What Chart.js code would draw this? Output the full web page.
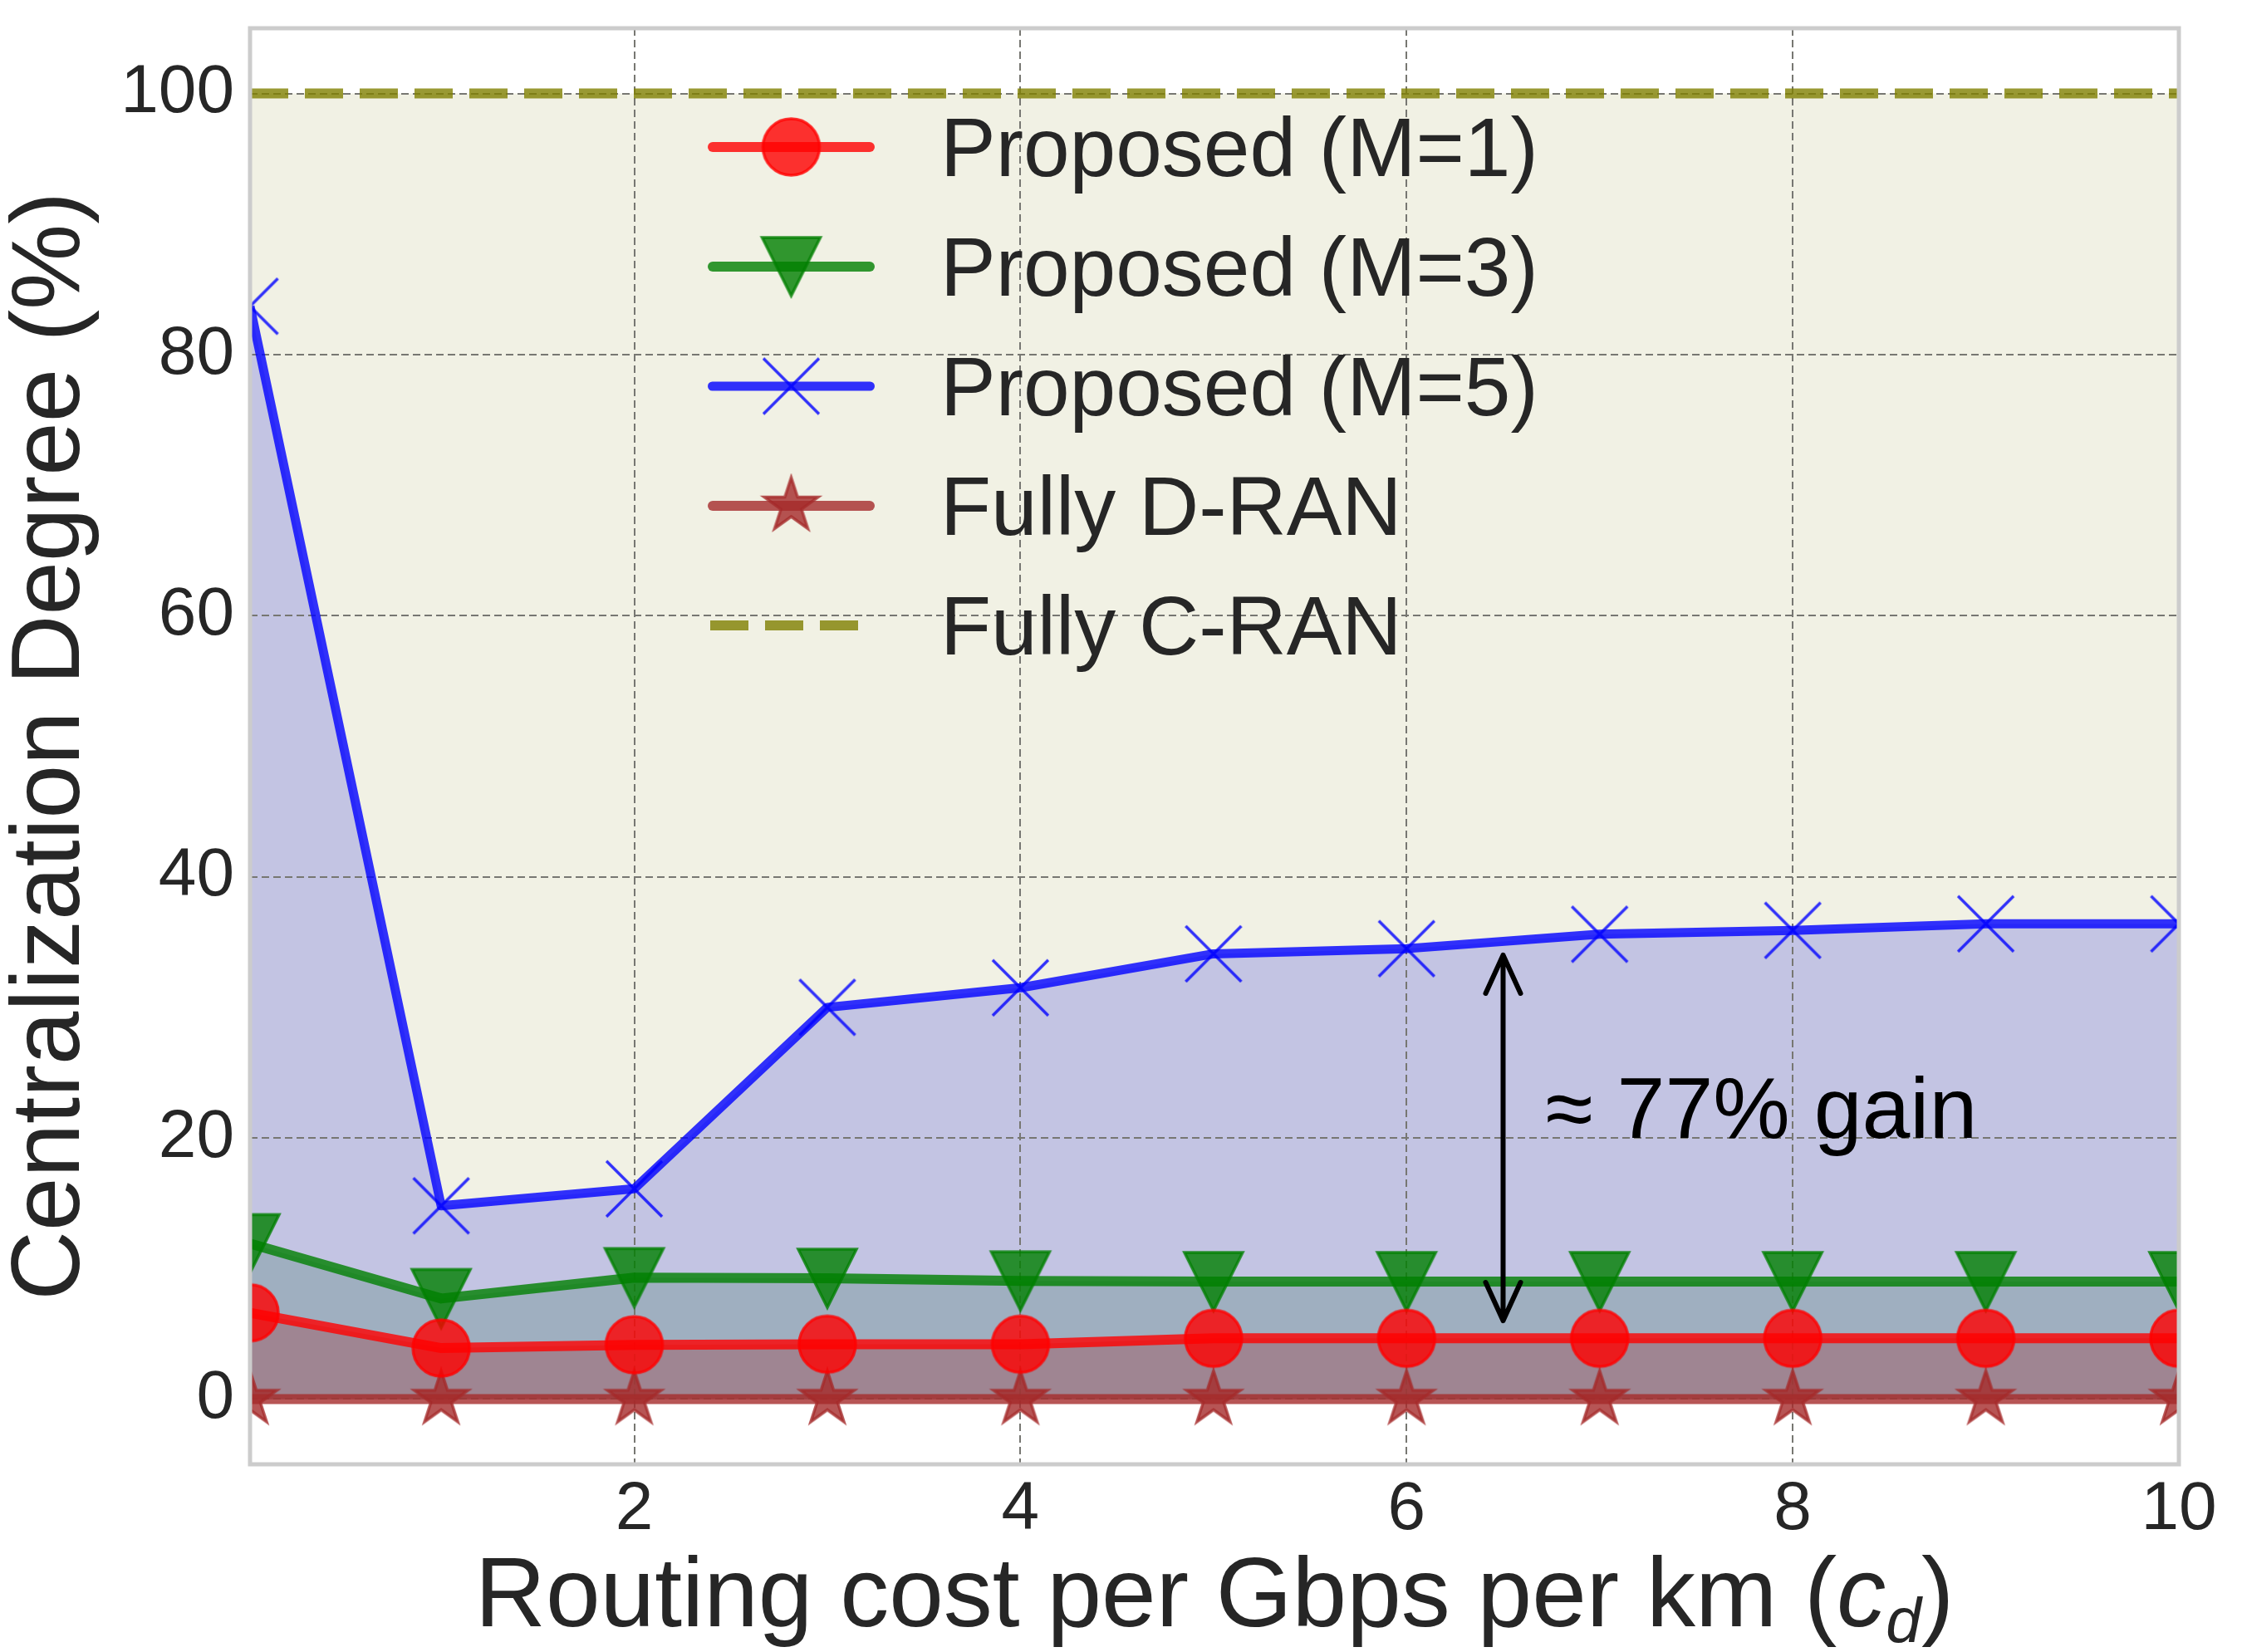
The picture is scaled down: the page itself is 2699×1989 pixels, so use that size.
<!DOCTYPE html>
<html>
<head>
<meta charset="utf-8">
<title>Centralization degree vs routing cost</title>
<script src="https://cdn.jsdelivr.net/npm/chart.js@4.4.1/dist/chart.umd.min.js"></script>
<style>
  body { margin: 0; background: #fff; }
  #wrap { position: relative; width: 2699px; height: 1989px; font-family: 'Liberation Sans', Arial, sans-serif; color: #262626; }
  #chart { position: absolute; left: 0; top: 0; }
  #legend { position: absolute; left: 852px; top: 105px; }
  .row { display: flex; align-items: center; height: 144px; }
  .row span { margin-left: 79px; font-size: 100px; line-height: 144px; white-space: nowrap; }
  #xtitle { position: absolute; left: 301px; width: 2322px; top: 1858px; text-align: center; font-size: 118px; line-height: 118px; white-space: nowrap; }
  #xtitle sub { font-size: 0.65em; vertical-align: -19px; line-height: 0; }
</style>
</head>
<body>
<div id="wrap">
  <canvas id="chart" width="2699" height="1989"></canvas>
  <div id="legend"></div>
  <div id="xtitle">Routing cost per Gbps per km (<i>c<sub>d</sub></i>)</div>
</div>
<script>
// ── Data ──
const costs = [0.01, 1, 2, 3, 4, 5, 6, 7, 8, 9, 10];
const proposedM1 = [6.6, 3.9, 4.15, 4.2, 4.2, 4.65, 4.65, 4.65, 4.65, 4.65, 4.65];
const proposedM3 = [11.9, 7.7, 9.3, 9.25, 9.05, 9.0, 9.0, 9.0, 9.0, 9.0, 9.0];
const proposedM5 = [83.7, 14.8, 16.1, 30.0, 31.5, 34.1, 34.5, 35.6, 35.9, 36.4, 36.4];
const fullyDRAN = [0, 0, 0, 0, 0, 0, 0, 0, 0, 0, 0];
const fullyCRAN = [100, 100, 100, 100, 100, 100, 100, 100, 100, 100, 100];
const xTicks = [2, 4, 6, 8, 10];
const yTicks = [0, 20, 40, 60, 80, 100];
const gainArrow = { x: 6.5, from: 6, to: 34 };
const gainLabel = { x: 6.72, y: 20, text: '≈ 77% gain' };

const FONT = "'Liberation Sans', Arial, sans-serif";
const TEXT = '#262626';

Chart.defaults.font.family = FONT;
Chart.defaults.color = TEXT;

// ── Marker sprites (matplotlib-like o, v, x, *) ──
function markerCanvas(kind, rgb, size, lw) {
    const pad = 5;
    const c = document.createElement('canvas');
    c.width = c.height = Math.ceil(size + pad * 2);
    const g = c.getContext('2d');
    const m = c.width / 2, r = size / 2;
    g.fillStyle = g.strokeStyle = 'rgba(' + rgb + ',0.8)';
    g.lineWidth = lw;
    g.beginPath();
    if (kind === 'circle') {
        g.arc(m, m, r, 0, Math.PI * 2);
    } else if (kind === 'tri') {
        g.moveTo(m - r, m - r); g.lineTo(m + r, m - r); g.lineTo(m, m + r); g.closePath();
    } else if (kind === 'star') {
        for (let i = 0; i < 10; i++) {
            const rr = i % 2 ? r * 0.382 : r;
            const a = -Math.PI / 2 + i * Math.PI / 5;
            g.lineTo(m + rr * Math.cos(a), m + rr * Math.sin(a));
        }
        g.closePath();
    } else if (kind === 'x') {
        g.moveTo(m - r, m - r); g.lineTo(m + r, m + r);
        g.moveTo(m + r, m - r); g.lineTo(m - r, m + r);
        g.stroke();
        return c;
    }
    g.fill();
    g.stroke();
    return c;
}

const mkCircle = markerCanvas('circle', '255,0,0', 68, 3.5);
const mkTri = markerCanvas('tri', '0,128,0', 70, 3.5);
const mkX = markerCanvas('x', '0,0,255', 67, 3.5);
const mkStar = markerCanvas('star', '165,42,42', 68, 3.5);

const pts = arr => costs.map((c, i) => ({ x: c, y: arr[i] }));

const datasets = [
    { label: 'Proposed (M=1)', data: pts(proposedM1), borderColor: 'rgba(255,0,0,0.8)', borderWidth: 12,
      fill: 'origin', backgroundColor: '#9f8592', pointStyle: mkCircle },
    { label: 'Proposed (M=3)', data: pts(proposedM3), borderColor: 'rgba(0,128,0,0.8)', borderWidth: 12,
      fill: 'origin', backgroundColor: '#9fafc0', pointStyle: mkTri },
    { label: 'Proposed (M=5)', data: pts(proposedM5), borderColor: 'rgba(0,0,255,0.8)', borderWidth: 11,
      fill: 'origin', backgroundColor: '#c3c4e3', pointStyle: mkX },
    { label: 'Fully D-RAN', data: pts(fullyDRAN), borderColor: 'rgba(165,42,42,0.8)', borderWidth: 12,
      fill: false, pointStyle: mkStar },
    { label: 'Fully C-RAN', data: pts(fullyCRAN), borderColor: 'rgba(128,128,0,0.8)', borderWidth: 12,
      borderDash: [46, 20], fill: 'origin', backgroundColor: '#f1f1e4', pointRadius: 0, pointHoverRadius: 0 }
];
datasets.forEach(ds => {
    ds.tension = 0;
    ds.borderJoinStyle = 'round';
    if (ds.pointRadius === undefined) { ds.pointRadius = 34; ds.pointHoverRadius = 34; }
    ds.pointBorderWidth = 0;
});

// ── Frame around plot area ──
const framePlugin = {
    id: 'frame',
    afterDatasetsDraw(chart) {
        const { ctx, chartArea: a } = chart;
        ctx.save();
        ctx.strokeStyle = '#cccccc';
        ctx.lineWidth = 5;
        ctx.strokeRect(a.left, a.top, a.right - a.left, a.bottom - a.top);
        ctx.restore();
    }
};

// ── Double arrow + gain note ──
const gainPlugin = {
    id: 'gain',
    afterDatasetsDraw(chart) {
        const { ctx, scales: { x, y } } = chart;
        const px = x.getPixelForValue(gainArrow.x);
        const yb = y.getPixelForValue(gainArrow.from);
        const yt = y.getPixelForValue(gainArrow.to);
        const hl = 46, hw = 21;
        ctx.save();
        ctx.strokeStyle = '#000';
        ctx.lineWidth = 6;
        ctx.lineCap = 'round';
        ctx.lineJoin = 'round';
        ctx.beginPath();
        ctx.moveTo(px, yb); ctx.lineTo(px, yt);
        ctx.moveTo(px - hw, yt + hl); ctx.lineTo(px, yt); ctx.lineTo(px + hw, yt + hl);
        ctx.moveTo(px - hw, yb - hl); ctx.lineTo(px, yb); ctx.lineTo(px + hw, yb - hl);
        ctx.stroke();
        ctx.font = '104px ' + FONT;
        ctx.fillStyle = '#000';
        ctx.textAlign = 'left';
        ctx.textBaseline = 'alphabetic';
        ctx.fillText(gainLabel.text, x.getPixelForValue(gainLabel.x), y.getPixelForValue(gainLabel.y));
        ctx.restore();
    }
};

const gridColor = '#777772';

new Chart(document.getElementById('chart'), {
    type: 'line',
    data: { datasets },
    options: {
        responsive: false,
        animation: false,
        devicePixelRatio: 1,
        events: [],
        layout: { padding: { top: 31, right: 76, left: 0, bottom: 0 } },
        plugins: {
            legend: { display: false },
            tooltip: { enabled: false },
            filler: { drawTime: 'beforeDraw' }
        },
        scales: {
            x: {
                type: 'linear',
                min: 0.01,
                max: 10,
                afterBuildTicks: s => { s.ticks = xTicks.map(v => ({ value: v })); },
                afterFit: s => { s.height = 226; s.paddingLeft = 0; s.paddingRight = 0; },
                grid: { color: gridColor, lineWidth: 2, drawTicks: false },
                border: { display: false, dash: [9, 5] },
                ticks: { font: { size: 82, lineHeight: 1 }, padding: 14, color: TEXT, maxRotation: 0, autoSkip: false }
            },
            y: {
                min: -5,
                max: 105,
                afterBuildTicks: s => { s.ticks = yTicks.map(v => ({ value: v })); },
                afterFit: s => { s.width = 301; s.paddingTop = 0; s.paddingBottom = 0; },
                grid: { color: gridColor, lineWidth: 2, drawTicks: false },
                border: { display: false, dash: [9, 5] },
                ticks: { font: { size: 82, lineHeight: 1 }, padding: 19, color: TEXT },
                title: {
                    display: true,
                    text: 'Centralization Degree (%)',
                    font: { size: 116, lineHeight: 1 },
                    padding: { top: 5, bottom: 0 },
                    color: TEXT
                }
            }
        }
    },
    plugins: [framePlugin, gainPlugin]
});

// ── Legend (line + marker sample, text) ──
const legendMarkers = [mkCircle, mkTri, mkX, mkStar, null];
const legendEl = document.getElementById('legend');
datasets.forEach((ds, i) => {
    const row = document.createElement('div');
    row.className = 'row';
    const icon = document.createElement('canvas');
    icon.width = 201; icon.height = 144;
    const g = icon.getContext('2d');
    g.strokeStyle = ds.borderColor;
    g.lineWidth = ds.borderWidth;
    g.beginPath();
    if (ds.borderDash) {
        g.setLineDash(ds.borderDash);
        g.lineCap = 'butt';
        g.moveTo(3, 72); g.lineTo(201, 72);
    } else {
        g.lineCap = 'round';
        g.moveTo(ds.borderWidth / 2, 72); g.lineTo(201 - ds.borderWidth / 2, 72);
    }
    g.stroke();
    const mk = legendMarkers[i];
    if (mk) g.drawImage(mk, 100.5 - mk.width / 2, 72 - mk.height / 2);
    const span = document.createElement('span');
    span.textContent = ds.label;
    row.appendChild(icon);
    row.appendChild(span);
    legendEl.appendChild(row);
});
</script>
</body>
</html>
